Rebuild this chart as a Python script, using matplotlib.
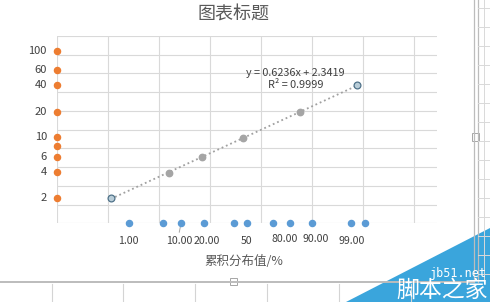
"""
Excel-style probability plot: 图表标题 / 累积分布值/%
"""
import numpy as np
import matplotlib
matplotlib.use("Agg")
import matplotlib.pyplot as plt
from matplotlib.lines import Line2D
from matplotlib.patches import Polygon, Rectangle

plt.rcParams['font.family'] = ['Noto Sans CJK SC', 'DejaVu Sans']

# orange series on the y axis (position, label)
y_pos = [9.2, 8.18, 7.38, 5.96, 4.6, 4.15, 3.56, 2.76, 1.37]
y_labels = ["100", "60", "40", "20", "10", "", "6", "4", "2"]

# blue series on the x axis (position, label, label shift in pt)
x_pos = [1.40, 2.08, 2.43, 2.88, 3.46, 3.73, 4.24, 4.56, 5.00, 5.76, 6.04]
x_labels = ["1.00", "", "10.00", "20.00", "", "50", "", "80.00", "90.00", "", "99.00"]
x_shift = [0, 0, -1.5, 2, 0, -0.7, 0, -3.6, 2.8, 0, -9.4]
x_lift = [0, 0, 0, 0, 0, 0, 0, 1.5, 1.5, 0, 0]

# fitted points
fit_x = [1.05, 2.19, 2.84, 3.64, 4.76, 5.88]
fit_y = [1.34, 2.70, 3.52, 4.54, 5.93, 7.37]
eq_text = "y = 0.6236x + 2.3419\nR² = 0.9999"

W, H = 490, 302
fig = plt.figure(figsize=(W / 100, H / 100), dpi=100)
fig.patch.set_facecolor("white")


def fx(px):
    return px / W


def fy(py):
    return 1 - py / H


ax = fig.add_axes([fx(57.3), fy(223.3), (436.7 - 57.3) / W, (223.3 - 36) / H])
ax.set_xlim(0, 7.45)
ax.set_ylim(0, 10)
ax.set_xticks(range(0, 8))
ax.set_yticks(range(0, 11))
ax.grid(True, color="#d9d9d9", linewidth=0.8)
ax.tick_params(length=0, labelbottom=False, labelleft=False)
for s in ax.spines.values():
    s.set_visible(False)

# orange points on x = 0
ax.plot(np.zeros(len(y_pos)), y_pos, "o", color="#ED7D31", markersize=4.4,
        clip_on=False, zorder=5)
for v, lab in zip(y_pos, y_labels):
    if lab:
        ax.annotate(lab, (0, v), xytext=(-7.5, 0), textcoords="offset points",
                    ha="right", va="center", fontsize=8, color="#404040",
                    annotation_clip=False)

# blue points on y = 0
ax.plot(x_pos, np.zeros(len(x_pos)), "o", color="#5B9BD5", markersize=4.4,
        clip_on=False, zorder=5)
for v, lab, dx, dy in zip(x_pos, x_labels, x_shift, x_lift):
    if lab:
        ax.annotate(lab, (v, 0), xytext=(dx, -12.5 + dy), textcoords="offset points",
                    ha="center", va="center", fontsize=7.6, color="#404040",
                    annotation_clip=False)
# leader line for the 10.00 label
ax.annotate("", (x_pos[2], 0), xytext=(-1.3, -6.5), textcoords="offset points",
            arrowprops=dict(arrowstyle="-", color="#a6a6a6", lw=0.7,
                            shrinkA=0, shrinkB=2.5),
            annotation_clip=False)

# trend line
k, b = np.polyfit(fit_x, fit_y, 1)
tx = np.array([min(fit_x), max(fit_x)])
ax.plot(tx, k * tx + b, linestyle=(0, (1, 1.6)), color="#a0a0a0", linewidth=1.3, zorder=3)
ax.plot(fit_x[1:-1], fit_y[1:-1], "o", color="#A5A5A5", markersize=4.6, zorder=4)
ax.plot([fit_x[0], fit_x[-1]], [fit_y[0], fit_y[-1]], "o", markerfacecolor="#b9cdd8",
        markeredgecolor="#4f7289", markeredgewidth=0.9, markersize=4.9, zorder=4)
ax.text(4.68, 7.70, eq_text, ha="center", va="center", fontsize=7.8,
        color="#404040", linespacing=1.3)

# title and axis title
fig.text(fx(233.7), fy(14.5), "图表标题", ha="center", va="center",
         fontsize=13, color="#595959")
fig.text(fx(244), fy(261), "累积分布值/%", ha="center", va="center",
         fontsize=9, color="#595959")

# worksheet / chart frame around it
fig.add_artist(Line2D([0, fx(474)], [fy(281.5), fy(281.5)], color="#bcbcbc", lw=1.4))
fig.add_artist(Line2D([fx(474), fx(474)], [fy(281.5), 1], color="#bcbcbc", lw=0.9))
fig.add_artist(Line2D([fx(477.5), fx(477.5)], [fy(281.5), 1], color="#bcbcbc", lw=0.9))
for px in [52, 123, 195, 267, 339, 411]:
    fig.add_artist(Line2D([fx(px), fx(px)], [0, fy(284)], color="#d4d4d4", lw=0.8))
for py in range(8, 282, 19):
    fig.add_artist(Line2D([fx(478), 1], [fy(py), fy(py)], color="#d9d9d9", lw=0.7))
fig.add_artist(Line2D([fx(484), fx(484)], [fy(281), 1], color="#d9d9d9", lw=0.7))
fig.add_artist(Rectangle((fx(230), fy(285)), 7 / W, 7 / H, facecolor="white",
                         edgecolor="#a6a6a6", lw=0.7))
fig.add_artist(Rectangle((fx(472), fy(141)), 7 / W, 8 / H, facecolor="white",
                         edgecolor="#a6a6a6", lw=0.7))

# watermark
fig.add_artist(Polygon([[fx(346), 0], [1, fy(228)], [1, 0]], closed=True,
                       facecolor="#3aa5dc", edgecolor="none"))
fig.text(fx(487), fy(273), "jb51.net", ha="right", va="center",
         fontsize=8.5, color="white", family="DejaVu Sans Mono")
fig.text(fx(488), fy(290.5), "脚本之家", ha="right", va="center",
         fontsize=16.5, color="white")

fig.savefig("out.png", dpi=100)
